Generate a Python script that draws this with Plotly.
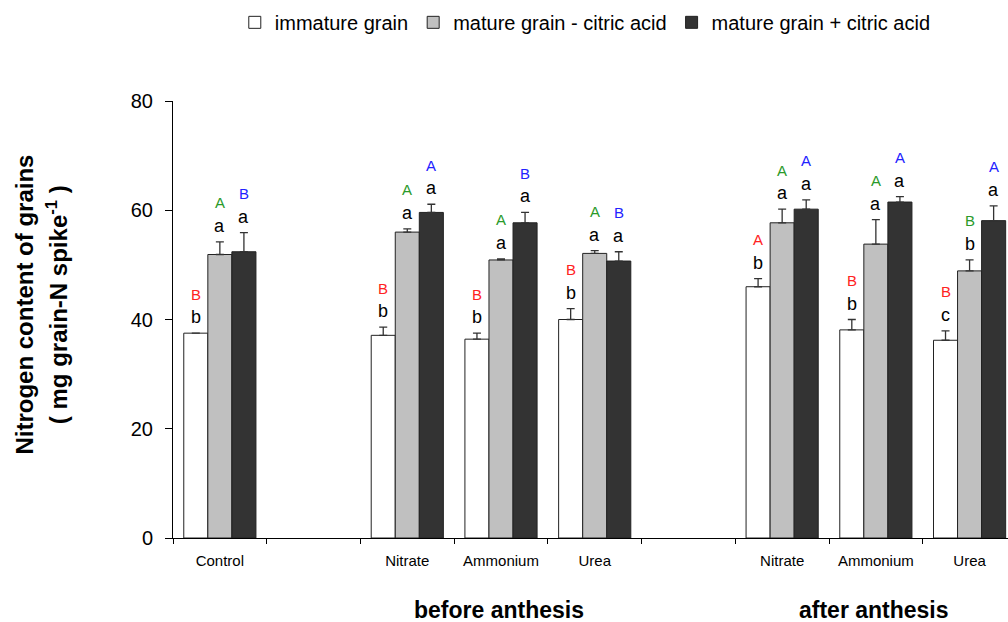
import plotly.graph_objects as go

# Category slots along the x axis (blank slots separate the treatment blocks)
groups = ["Control", "", "Nitrate", "Ammonium", "Urea", "", "Nitrate", "Ammonium", "Urea"]

# Nitrogen content of grains (mg grain-N spike-1) and upper error (SE)
immature = [37.5, None, 37.1, 36.4, 40.0, None, 46.0, 38.1, 36.2]
immature_err = [0.0, None, 1.5, 1.1, 2.0, None, 1.5, 1.9, 1.7]
mature_minus = [51.9, None, 56.0, 50.9, 52.1, None, 57.7, 53.8, 48.9]
mature_minus_err = [2.3, None, 0.6, 0.2, 0.5, None, 2.5, 4.5, 2.0]
mature_plus = [52.4, None, 59.6, 57.7, 50.7, None, 60.2, 61.5, 58.1]
mature_plus_err = [3.5, None, 1.5, 1.9, 1.7, None, 1.7, 1.0, 2.7]

# Significance letters: lowercase = within treatment, uppercase = among treatments
immature_lower = ["b", "", "b", "b", "b", "", "b", "b", "c"]
immature_upper = ["B", "", "B", "B", "B", "", "A", "B", "B"]
minus_lower = ["a", "", "a", "a", "a", "", "a", "a", "b"]
minus_upper = ["A", "", "A", "A", "A", "", "A", "A", "B"]
plus_lower = ["a", "", "a", "a", "a", "", "a", "a", "a"]
plus_upper = ["B", "", "A", "B", "B", "", "A", "A", "A"]

phase_labels = ["before anthesis", "after anthesis"]
phase_centers = [3, 7]

FONT = "Liberation Sans, Arial, Helvetica, sans-serif"
x = list(range(len(groups)))

series = [
    ("immature grain", immature, immature_err, "#ffffff", immature_lower, immature_upper, "#ff2222"),
    ("mature grain - citric acid", mature_minus, mature_minus_err, "#c0c0c0", minus_lower, minus_upper, "#2a9a2a"),
    ("mature grain + citric acid", mature_plus, mature_plus_err, "#333333", plus_lower, plus_upper, "#2222ff"),
]

BARGAP = 0.23
bar_w = (1 - BARGAP) / len(series)

fig = go.Figure()
annotations = []
for k, (name, vals, errs, color, low, up, up_color) in enumerate(series):
    fig.add_trace(go.Bar(
        x=x, y=vals, name=name,
        marker=dict(color=color, line=dict(color="#222222", width=1)),
        error_y=dict(type="data", symmetric=False, array=errs,
                     arrayminus=[0 if e is not None else None for e in errs],
                     color="#333333", thickness=1.3, width=4),
    ))
    offset = (k - (len(series) - 1) / 2) * bar_w
    for i, (v, e) in enumerate(zip(vals, errs)):
        if v is None:
            continue
        top = v + (e or 0)
        annotations.append(dict(x=i + offset, y=top, xref="x", yref="y", text=low[i],
                                showarrow=False, yanchor="middle", yshift=16,
                                font=dict(family=FONT, size=18, color="black")))
        annotations.append(dict(x=i + offset, y=top, xref="x", yref="y", text=up[i],
                                showarrow=False, yanchor="middle", yshift=39,
                                font=dict(family=FONT, size=15, color=up_color)))

for lab, c in zip(phase_labels, phase_centers):
    annotations.append(dict(x=c, y=-0.165, xref="x", yref="paper", text="<b>%s</b>" % lab,
                            showarrow=False, yanchor="middle", xshift=-2,
                            font=dict(family=FONT, size=23, color="black")))

# Two-line y axis title
annotations.append(dict(x=-0.178, y=0.535, xref="paper", yref="paper",
                        text="<b>Nitrogen content of grains</b>", textangle=-90,
                        showarrow=False, xanchor="center", yanchor="middle",
                        font=dict(family=FONT, size=24, color="black")))
annotations.append(dict(x=-0.139, y=0.535, xref="paper", yref="paper",
                        text="<b>( mg grain-N spike<sup>-1</sup> )</b>", textangle=-90,
                        showarrow=False, xanchor="center", yanchor="middle",
                        font=dict(family=FONT, size=24, color="black")))

fig.update_layout(
    width=1008, height=622,
    margin=dict(l=173, r=0, t=101, b=84),
    paper_bgcolor="white", plot_bgcolor="white",
    barmode="group", bargap=BARGAP, bargroupgap=0,
    font=dict(family=FONT, color="black"),
    showlegend=True,
    legend=dict(orientation="h", x=0.074, xanchor="left", y=1.18, yanchor="middle",
                font=dict(family=FONT, size=20, color="black"),
                bgcolor="rgba(0,0,0,0)", itemwidth=30),
    annotations=annotations,
)

# Labels only on occupied slots; tick marks on every slot boundary
label_pos = [i for i, g in enumerate(groups) if g]
label_txt = [groups[i] for i in label_pos]

fig.update_xaxes(
    range=[-0.5, 8.41], tickmode="array", tickvals=label_pos, ticktext=label_txt,
    ticks="", showgrid=False, zeroline=False,
    showline=True, linecolor="black", linewidth=1,
    tickfont=dict(family=FONT, size=15, color="black"), ticklabelstandoff=9,
    minor=dict(tickmode="array", tickvals=[i - 0.5 for i in range(len(groups) + 1)],
               ticks="outside", ticklen=5, tickcolor="black", tickwidth=1, showgrid=False),
)
fig.update_yaxes(
    range=[0, 80], tickmode="array", tickvals=[0, 20, 40, 60, 80],
    ticks="outside", ticklen=7, tickcolor="black", tickwidth=1,
    showgrid=False, zeroline=False,
    showline=True, linecolor="black", linewidth=1,
    tickfont=dict(family=FONT, size=20, color="black"), ticklabelstandoff=8,
)

fig.write_html("out.html")
